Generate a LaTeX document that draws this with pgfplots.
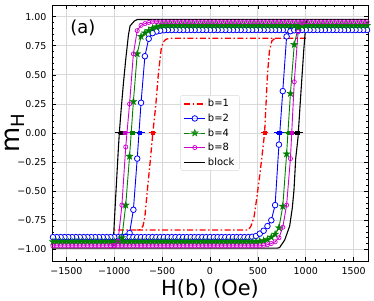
\documentclass[border=0pt]{standalone}
\usepackage{fontspec}
\setmainfont{DejaVu Sans}
\usepackage{pgfplots}
\pgfplotsset{compat=1.18}
\definecolor{mplblue}{HTML}{0000FF}
\definecolor{mplgreen}{HTML}{008000}
\definecolor{mplmag}{HTML}{D000D0}
\definecolor{mplred}{HTML}{FF0000}
\pgfdeclareplotmark{fstar}{%
  \pgfpathmoveto{\pgfpointpolar{90}{\pgfplotmarksize}}%
  \pgfpathlineto{\pgfpointpolar{126}{0.382\pgfplotmarksize}}%
  \pgfpathlineto{\pgfpointpolar{162}{\pgfplotmarksize}}%
  \pgfpathlineto{\pgfpointpolar{198}{0.382\pgfplotmarksize}}%
  \pgfpathlineto{\pgfpointpolar{234}{\pgfplotmarksize}}%
  \pgfpathlineto{\pgfpointpolar{270}{0.382\pgfplotmarksize}}%
  \pgfpathlineto{\pgfpointpolar{306}{\pgfplotmarksize}}%
  \pgfpathlineto{\pgfpointpolar{342}{0.382\pgfplotmarksize}}%
  \pgfpathlineto{\pgfpointpolar{18}{\pgfplotmarksize}}%
  \pgfpathlineto{\pgfpointpolar{54}{0.382\pgfplotmarksize}}%
  \pgfpathclose
  \pgfusepathqfillstroke
}
\begin{document}
\begin{tikzpicture}
\path[use as bounding box] (-52bp,-40bp) rectangle (322bp,261bp);
\begin{axis}[
  scale only axis, width=316bp, height=256bp,
  at={(0,0)}, anchor=south west,
  xmin=-1650, xmax=1650, ymin=-1.1, ymax=1.1,
  xtick={-1500,-1000,-500,0,500,1000,1500},
  xticklabels={−1500,−1000,−500,0,500,1000,1500},
  ytick={-1,-0.75,-0.5,-0.25,0,0.25,0.5,0.75,1},
  yticklabels={−1.00,−0.75,−0.50,−0.25,0.00,0.25,0.50,0.75,1.00},
  minor x tick num=4, minor y tick num=4,
  tick align=inside, tick pos=both,
  major tick length=4bp, minor tick length=2bp,
  every tick/.style={black, line width=0.6bp},
  axis line style={line width=0.8bp},
  grid=major, major grid style={color=black!15, line width=0.8bp},
  tick label style={font=\fontsize{9.5}{11}\selectfont},
  xticklabel style={yshift=-2.5bp}, yticklabel style={xshift=-2bp},
  xlabel={H(b) (Oe)}, ylabel={m\textsubscript{H}},
  xlabel style={font=\fontsize{21}{25}\selectfont, at={(axis description cs:0.5,0)}, anchor=north, yshift=-18bp, inner sep=0pt},
  ylabel style={font=\fontsize{26}{31}\selectfont, at={(axis description cs:-0.117,0.5)}, anchor=center, inner sep=0pt},
  legend style={at={(0.5,0.5)}, anchor=center, font=\fontsize{10}{12}\selectfont, draw=black!15, rounded corners=2bp, fill=white, fill opacity=0.8, text opacity=1, row sep=1.5bp, inner xsep=3bp, inner ysep=2bp},
  legend cell align=left,
  legend image code/.code={\draw[mark repeat=2,mark phase=2,#1] plot coordinates {(0bp,0bp)(10.5bp,0bp)(21bp,0bp)};},
]
% b=1
\addplot[mplred, line width=1.3bp, dash pattern=on 6bp off 2.5bp on 1.5bp off 2.5bp] coordinates {(1000,0.815)(-420,0.815)(-460,0.805)(-490,0.78)(-510,0.72)(-540,0.50)(-565,0.25)(-597,0)(-625,-0.25)(-655,-0.50)(-680,-0.72)(-700,-0.80)(-730,-0.83)(-760,-0.834)(-1000,-0.834)};
\addlegendentry{b=1}
\addplot[mplred, line width=1.3bp, dash pattern=on 6bp off 2.5bp on 1.5bp off 2.5bp, forget plot] coordinates {(-760,-0.834)(400,-0.834)(428,-0.80)(460,-0.72)(485,-0.58)(520,-0.36)(550,-0.15)(570,0)(585,0.25)(600,0.50)(620,0.70)(645,0.79)(680,0.815)};
% b=2
\addplot[mplblue, line width=0.9bp, mark=*, mark size=2.8bp, mark options={fill=white, draw=mplblue, line width=0.8bp}] coordinates {
(1680,0.885)(1640,0.885)(1600,0.885)(1560,0.885)(1520,0.885)(1480,0.885)(1440,0.885)(1400,0.885)(1360,0.885)(1320,0.885)(1280,0.885)(1240,0.885)(1200,0.885)(1160,0.885)(1120,0.885)(1080,0.885)(1040,0.885)(1000,0.885)(960,0.885)(920,0.885)(880,0.885)(840,0.885)(800,0.885)(760,0.885)(720,0.885)(680,0.885)(640,0.885)(600,0.885)(560,0.885)(520,0.885)(480,0.885)(440,0.885)(400,0.885)(360,0.885)(320,0.885)(280,0.885)(240,0.885)(200,0.885)(160,0.885)(120,0.885)(80,0.885)(40,0.885)(0,0.885)(-40,0.885)(-80,0.885)(-120,0.885)(-160,0.885)(-200,0.885)(-240,0.885)(-280,0.885)(-320,0.885)(-360,0.885)(-400,0.885)(-440,0.885)(-480,0.883)(-520,0.879)(-560,0.872)(-600,0.858)(-640,0.81)(-680,0.66)(-720,0.26)(-760,-0.22)(-800,-0.66)(-840,-0.86)(-880,-0.89)(-920,-0.895)(-960,-0.895)(-1000,-0.895)(-1040,-0.895)(-1080,-0.895)(-1120,-0.895)(-1160,-0.895)(-1200,-0.895)(-1240,-0.895)(-1280,-0.895)(-1320,-0.895)(-1360,-0.895)(-1400,-0.895)(-1440,-0.895)(-1480,-0.895)(-1520,-0.895)(-1560,-0.895)(-1600,-0.895)(-1640,-0.895)(-1680,-0.895)
(-920,-0.895)(-880,-0.895)(-840,-0.895)(-800,-0.895)(-760,-0.895)(-720,-0.895)(-680,-0.895)(-640,-0.895)(-600,-0.895)(-560,-0.895)(-520,-0.895)(-480,-0.895)(-440,-0.895)(-400,-0.895)(-360,-0.895)(-320,-0.895)(-280,-0.895)(-240,-0.895)(-200,-0.895)(-160,-0.895)(-120,-0.895)(-80,-0.895)(-40,-0.895)(0,-0.895)(40,-0.895)(80,-0.895)(120,-0.895)(160,-0.895)(200,-0.895)(240,-0.895)(280,-0.895)(320,-0.895)(360,-0.895)(400,-0.895)(440,-0.892)(480,-0.885)(520,-0.865)(560,-0.84)(600,-0.80)(640,-0.75)(680,-0.62)(720,-0.10)(760,0.36)(800,0.83)(840,0.875)(880,0.883)(920,0.885)};
\addlegendentry{b=2}
% b=4
\addplot[mplgreen, line width=0.9bp, mark=fstar, mark size=3.8bp, mark options={fill=mplgreen, draw=mplgreen, line width=0.3bp}] coordinates {
(1680,0.925)(1640,0.925)(1600,0.925)(1560,0.925)(1520,0.925)(1480,0.925)(1440,0.925)(1400,0.925)(1360,0.925)(1320,0.925)(1280,0.925)(1240,0.925)(1200,0.925)(1160,0.925)(1120,0.925)(1080,0.925)(1040,0.925)(1000,0.925)(960,0.925)(920,0.925)(880,0.925)(840,0.925)(800,0.925)(760,0.925)(720,0.925)(680,0.925)(640,0.925)(600,0.925)(560,0.925)(520,0.925)(480,0.925)(440,0.925)(400,0.925)(360,0.925)(320,0.925)(280,0.925)(240,0.925)(200,0.925)(160,0.925)(120,0.925)(80,0.925)(40,0.925)(0,0.925)(-40,0.925)(-80,0.925)(-120,0.925)(-160,0.925)(-200,0.925)(-240,0.925)(-280,0.925)(-320,0.925)(-360,0.925)(-400,0.925)(-440,0.925)(-480,0.925)(-520,0.92)(-560,0.912)(-600,0.90)(-640,0.88)(-680,0.86)(-720,0.83)(-760,0.68)(-800,0.27)(-840,-0.20)(-880,-0.62)(-920,-0.90)(-960,-0.93)(-1000,-0.935)(-1040,-0.935)(-1080,-0.935)(-1120,-0.935)(-1160,-0.935)(-1200,-0.935)(-1240,-0.935)(-1280,-0.935)(-1320,-0.935)(-1360,-0.935)(-1400,-0.935)(-1440,-0.935)(-1480,-0.935)(-1520,-0.935)(-1560,-0.935)(-1600,-0.935)(-1640,-0.935)(-1680,-0.935)
(-1000,-0.935)(-960,-0.935)(-920,-0.935)(-880,-0.935)(-840,-0.935)(-800,-0.935)(-760,-0.935)(-720,-0.935)(-680,-0.935)(-640,-0.935)(-600,-0.935)(-560,-0.935)(-520,-0.935)(-480,-0.935)(-440,-0.935)(-400,-0.935)(-360,-0.935)(-320,-0.935)(-280,-0.935)(-240,-0.935)(-200,-0.935)(-160,-0.935)(-120,-0.935)(-80,-0.935)(-40,-0.935)(0,-0.935)(40,-0.935)(80,-0.935)(120,-0.935)(160,-0.935)(200,-0.935)(240,-0.935)(280,-0.935)(320,-0.935)(360,-0.935)(400,-0.935)(440,-0.935)(480,-0.935)(520,-0.93)(560,-0.925)(600,-0.915)(640,-0.895)(680,-0.87)(720,-0.815)(760,-0.63)(800,-0.18)(840,0.34)(880,0.76)(920,0.905)(960,0.92)(1000,0.925)};
\addlegendentry{b=4}
% b=8
\addplot[mplmag, line width=0.9bp, mark=o, mark size=2.1bp, mark options={line width=0.7bp}] coordinates {
(1680,0.955)(1640,0.955)(1600,0.955)(1560,0.955)(1520,0.955)(1480,0.955)(1440,0.955)(1400,0.955)(1360,0.955)(1320,0.955)(1280,0.955)(1240,0.955)(1200,0.955)(1160,0.955)(1120,0.955)(1080,0.955)(1040,0.955)(1000,0.955)(960,0.955)(920,0.955)(880,0.955)(840,0.955)(800,0.955)(760,0.955)(720,0.955)(680,0.955)(640,0.955)(600,0.955)(560,0.955)(520,0.955)(480,0.955)(440,0.955)(400,0.955)(360,0.955)(320,0.955)(280,0.955)(240,0.955)(200,0.955)(160,0.955)(120,0.955)(80,0.955)(40,0.955)(0,0.955)(-40,0.955)(-80,0.955)(-120,0.955)(-160,0.955)(-200,0.955)(-240,0.955)(-280,0.955)(-320,0.955)(-360,0.955)(-400,0.955)(-440,0.955)(-480,0.955)(-520,0.955)(-560,0.955)(-600,0.955)(-640,0.95)(-680,0.94)(-720,0.925)(-760,0.88)(-800,0.68)(-840,0.25)(-880,-0.12)(-920,-0.62)(-960,-0.93)(-1000,-0.965)(-1040,-0.97)(-1080,-0.97)(-1120,-0.97)(-1160,-0.97)(-1200,-0.97)(-1240,-0.97)(-1280,-0.97)(-1320,-0.97)(-1360,-0.97)(-1400,-0.97)(-1440,-0.97)(-1480,-0.97)(-1520,-0.97)(-1560,-0.97)(-1600,-0.97)(-1640,-0.97)(-1680,-0.97)
(-1040,-0.97)(-1000,-0.97)(-960,-0.97)(-920,-0.97)(-880,-0.97)(-840,-0.97)(-800,-0.97)(-760,-0.97)(-720,-0.97)(-680,-0.97)(-640,-0.97)(-600,-0.97)(-560,-0.97)(-520,-0.97)(-480,-0.97)(-440,-0.97)(-400,-0.97)(-360,-0.97)(-320,-0.97)(-280,-0.97)(-240,-0.97)(-200,-0.97)(-160,-0.97)(-120,-0.97)(-80,-0.97)(-40,-0.97)(0,-0.97)(40,-0.97)(80,-0.97)(120,-0.97)(160,-0.97)(200,-0.97)(240,-0.97)(280,-0.97)(320,-0.97)(360,-0.97)(400,-0.97)(440,-0.97)(480,-0.97)(520,-0.97)(560,-0.965)(600,-0.96)(640,-0.95)(680,-0.935)(720,-0.90)(760,-0.81)(800,-0.62)(840,-0.22)(880,0.44)(920,0.87)(960,0.945)(1000,0.955)};
\addlegendentry{b=8}
% block
\addplot[black, line width=1.1bp] coordinates {(1680,0.975)(-760,0.975)(-790,0.962)(-835,0.92)(-852,0.84)(-879,0.64)(-905,0.42)(-929,0.19)(-947,0)(-958,-0.15)(-987,-0.58)(-1011,-0.95)(-1022,-0.99)(-1680,-0.99)(700,-0.99)(726,-0.985)(780,-0.92)(832,-0.80)(860,-0.64)(877,-0.49)(895,-0.22)(919,-0.04)(944,0.28)(979,0.71)(1000,0.93)(1012,0.975)(1680,0.975)};
\addlegendentry{block}
% coercive fields
\addplot[only marks, mark=square*, mark size=1.6bp, mplred, forget plot, error bars/.cd, x dir=both, x explicit, error bar style={line width=1.2bp}, error mark options={mark size=2.5bp, line width=1bp}] coordinates {(-600,0) +- (12,0) (572,0) +- (12,0)};
\addplot[only marks, mark=square*, mark size=1.6bp, mplblue, forget plot, error bars/.cd, x dir=both, x explicit, error bar style={line width=1.2bp}, error mark options={mark size=2.5bp, line width=1bp}] coordinates {(-737,0) +- (30,0) (722,0) +- (30,0)};
\addplot[only marks, mark=square*, mark size=1.6bp, mplgreen, forget plot, error bars/.cd, x dir=both, x explicit, error bar style={line width=1.2bp}, error mark options={mark size=2.5bp, line width=1bp}] coordinates {(-812,0) +- (25,0) (822,0) +- (25,0)};
\addplot[only marks, mark=square*, mark size=1.6bp, mplmag, forget plot, error bars/.cd, x dir=both, x explicit, error bar style={line width=1.2bp}, error mark options={mark size=2.5bp, line width=1bp}] coordinates {(-888,0) +- (22,0) (850,0) +- (22,0)};
\addplot[only marks, mark=square*, mark size=1.6bp, black, forget plot, error bars/.cd, x dir=both, x explicit, error bar style={line width=1.2bp}, error mark options={mark size=2.5bp, line width=1bp}] coordinates {(-930,0) +- (35,0) (910,0) +- (35,0)};
\node[font=\fontsize{18}{22}\selectfont] at (axis description cs:0.0975,0.909) {(a)};
\end{axis}
\end{tikzpicture}
\end{document}
